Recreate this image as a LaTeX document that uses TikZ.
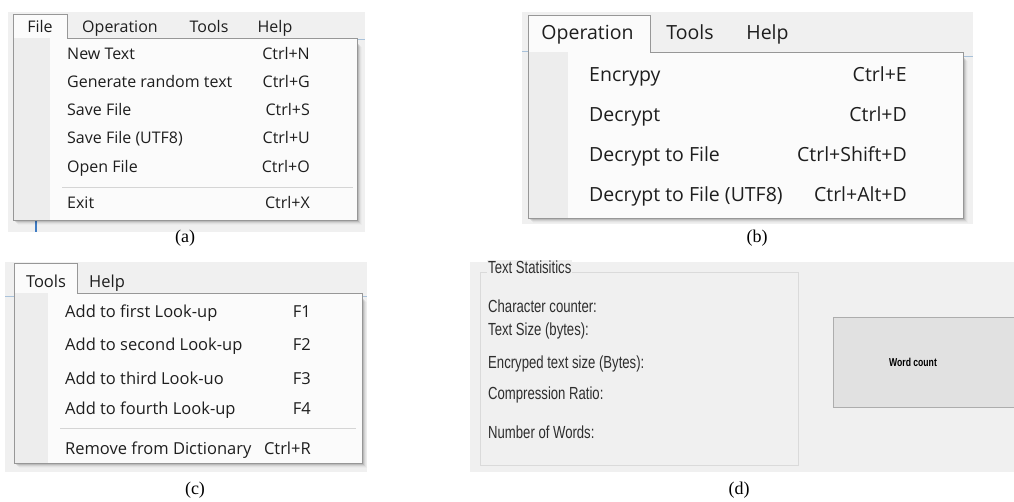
\documentclass[tikz,border=0pt]{standalone}
\usepackage{fontspec}
\newfontfamily\menufont{Open Sans}
\newfontfamily\winfont[FakeStretch=0.75]{Liberation Sans}
\newfontfamily\capfont{Liberation Serif}
\definecolor{panelbg}{HTML}{F0F0F0}
\definecolor{menubg}{HTML}{FBFBFB}
\definecolor{stripbg}{HTML}{EDEDED}
\definecolor{menuborder}{HTML}{979797}
\definecolor{sepline}{HTML}{D5D5D5}
\definecolor{barline}{HTML}{A9C2DA}
\definecolor{winblue}{HTML}{3F7CC4}
\definecolor{grpborder}{HTML}{DADADA}
\definecolor{btnfill}{HTML}{E1E1E1}
\definecolor{btnborder}{HTML}{ADADAD}
\definecolor{menutext}{HTML}{1E1E1E}
\definecolor{labtext}{HTML}{2E2E2E}
\newcommand\mshadow[4]{%
  \foreach \d/\o in {1/0.13,2/0.10,3/0.07,4/0.04,5/0.02}{%
    \fill[black,opacity=\o] ({#1+\d},{#2+\d}) rectangle ({#3+\d},{#4+\d});}}
\tikzset{
  panel/.style={fill=panelbg,draw=none},
  menuframe/.style={draw=menuborder,line width=0.9pt},
  strip/.style={fill=stripbg,draw=none},
  sep/.style={draw=sepline,line width=0.8pt},
  bar/.style={draw=barline,line width=1pt},
  ma/.style={inner sep=0pt,text=menutext,font=\menufont\fontsize{16}{18}\selectfont},
  mb/.style={inner sep=0pt,text=menutext,font=\menufont\fontsize{19.5}{22}\selectfont},
  mc/.style={inner sep=0pt,text=menutext,font=\menufont\fontsize{16.5}{19}\selectfont},
  md/.style={inner sep=0pt,text=labtext,anchor=base west,font=\winfont\fontsize{17.5}{20}\selectfont},
  capt/.style={inner sep=0pt,anchor=base,font=\capfont\fontsize{18}{20}\selectfont},
}
\begin{document}
\begin{tikzpicture}[x=1pt,y=-1pt]
\useasboundingbox (0,0) rectangle (1014,502);
\clip (0,0) rectangle (1014,502);
% ---------------- (a) ----------------
\fill[panel] (8,12) rectangle (365,232);
\draw[bar] (357,40) -- (365,40);
\draw[winblue,line width=1.4pt] (36,220) -- (36,232);
\mshadow{13}{42}{357}{220}
\fill[menubg] (13,14) -- (67,14) -- (67,38) -- (357,38) -- (357,220) -- (13,220) -- cycle;
\fill[strip] (13,38) rectangle (50,220);
\draw[sep] (62,187) -- (353,187);
\draw[menuframe] (13,14) -- (67,14) -- (67,38) -- (357,38) -- (357,220) -- (13,220) -- cycle;
\node[ma,anchor=base] (aFile) at (40,33) {File};
\node[ma,anchor=base] (aOp) at (120,33) {Operation};
\node[ma,anchor=base] (aTools) at (209,33) {Tools};
\node[ma,anchor=base] (aHelp) at (275,33) {Help};
\foreach \n/\t/\s/\y in {a1/New Text/Ctrl+N/60, a2/Generate random text/Ctrl+G/88, a3/Save File/Ctrl+S/116, a4/Save File (UTF8)/Ctrl+U/144, a5/Open File/Ctrl+O/173, a6/Exit/Ctrl+X/209}{
  \node[ma,anchor=base west] (\n l) at (67,\y) {\t};
  \node[ma,anchor=base east] (\n r) at (310,\y) {\s};
}
\node[capt] (capA) at (185,243) {(a)};
% ---------------- (b) ----------------
\fill[panel] (522,12) rectangle (973,224);
\draw[bar] (522,52) -- (528,52);
\draw[bar] (963,57) -- (973,57);
\mshadow{528}{56}{963}{218}
\fill[menubg] (528,15) -- (650,15) -- (650,52) -- (963,52) -- (963,218) -- (528,218) -- cycle;
\fill[strip] (528,52) rectangle (568,218);
\draw[menuframe] (528,15) -- (650,15) -- (650,52) -- (963,52) -- (963,218) -- (528,218) -- cycle;
\node[mb,anchor=base] (bOp) at (587.5,40) {Operation};
\node[mb,anchor=base] (bTools) at (690,40) {Tools};
\node[mb,anchor=base] (bHelp) at (767.5,40) {Help};
\foreach \n/\t/\s/\y in {b1/Encrypy/Ctrl+E/82, b2/Decrypt/Ctrl+D/122, b3/Decrypt to File/Ctrl+Shift+D/162, b4/Decrypt to File (UTF8)/Ctrl+Alt+D/202}{
  \node[mb,anchor=base west] (\n l) at (589,\y) {\t};
  \node[mb,anchor=base east] (\n r) at (907,\y) {\s};
}
\node[capt] (capB) at (757,243) {(b)};
% ---------------- (c) ----------------
\fill[panel] (5,262) rectangle (367,472);
\draw[bar] (5,297) -- (14,297);
\draw[bar] (362,297) -- (367,297);
\mshadow{14}{297}{362}{463}
\fill[menubg] (14,263) -- (77,263) -- (77,293) -- (362,293) -- (362,463) -- (14,463) -- cycle;
\fill[strip] (14,293) rectangle (48,463);
\draw[sep] (60,428) -- (356,428);
\draw[menuframe] (14,263) -- (77,263) -- (77,293) -- (362,293) -- (362,463) -- (14,463) -- cycle;
\node[mc,anchor=base] (cTools) at (46,288) {Tools};
\node[mc,anchor=base] (cHelp) at (107,288) {Help};
\foreach \n/\t/\s/\y in {c1/Add to first Look-up/F1/318, c2/Add to second Look-up/F2/351, c3/Add to third Look-uo/F3/384, c4/Add to fourth Look-up/F4/414, c5/Remove from Dictionary/Ctrl+R/454}{
  \node[mc,anchor=base west] (\n l) at (65,\y) {\t};
  \node[mc,anchor=base east] (\n r) at (311,\y) {\s};
}
\node[capt] (capC) at (195,494) {(c)};
% ---------------- (d) ----------------
\fill[panel] (470,262) rectangle (1014,472);
\draw[grpborder,line width=0.8pt] (480,272) rectangle (798,465);
\node[md,fill=panelbg,inner sep=1pt] (dTitle) at (487,274) {Text Statisitics};
\node[md] (d1) at (488,313) {Character counter:};
\node[md] (d2) at (488,336) {Text Size (bytes):};
\node[md] (d3) at (488,368) {Encryped text size (Bytes):};
\node[md] (d4) at (488,399) {Compression Ratio:};
\node[md] (d5) at (488,438) {Number of Words:};
\draw[fill=btnfill,draw=btnborder,line width=0.9pt] (833,317) rectangle (1020,407);
\node[inner sep=0pt,text=black,font=\winfont\bfseries\fontsize{11.5}{13}\selectfont] (dBtn) at (913,362) {Word count};
\node[capt] (capD) at (739,494) {(d)};
\end{tikzpicture}
\end{document}
